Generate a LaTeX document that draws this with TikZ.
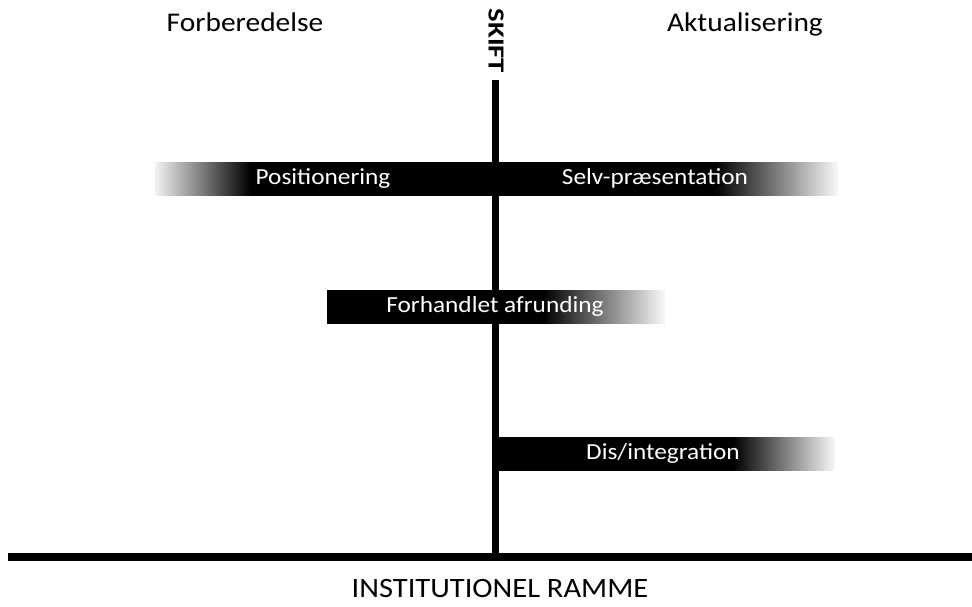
\documentclass[tikz,border=0pt]{standalone}
\usepackage{fontspec}
\setmainfont{Carlito}
% fades: the path fills 25bp..75bp of each shading
\pgfdeclarehorizontalshading{fadeboth}{100bp}{color(0bp)=(gray!10); color(25bp)=(gray!10);
  color(32bp)=(black); color(66bp)=(black); color(75bp)=(gray!5); color(100bp)=(gray!5)}
\pgfdeclarehorizontalshading{fademid}{100bp}{color(0bp)=(black); color(25bp)=(black);
  color(57bp)=(black); color(75bp)=(gray!5); color(100bp)=(gray!5)}
\pgfdeclarehorizontalshading{fadeend}{100bp}{color(0bp)=(black); color(25bp)=(black);
  color(60bp)=(black); color(75bp)=(gray!5); color(100bp)=(gray!5)}
\tikzset{
  barlabel/.style={text=white,font=\fontsize{23}{23}\selectfont,inner sep=0pt,anchor=base,xscale=1.1},
  headlabel/.style={font=\fontsize{27}{27}\selectfont,inner sep=0pt,anchor=base,xscale=1.09}
}
\begin{document}
\begin{tikzpicture}[x=1pt,y=-1pt]
    \useasboundingbox (0,0) rectangle (972,606);
    % bars
    \shade[shading=fadeboth] (155,162) rectangle (838,195);
    \shade[shading=fademid] (327,290) rectangle (665,323);
    \shade[shading=fadeend] (495,437) rectangle (835,470);
    % shift line and frame line
    \draw[line width=7pt] (495,80) -- (495,557);
    \draw[line width=8pt] (8,557) -- (972,557);
    % texts
    \node[headlabel] (prep) at (245,31) {Forberedelse};
    \node[headlabel] (actual) at (745,31) {Aktualisering};
    \node[font=\bfseries\fontsize{23}{23}\selectfont,inner sep=0pt,rotate=-90,xscale=1.25] (shift) at (496,41) {SKIFT};
    \node[barlabel] (pos) at (323,184) {Positionering};
    \node[barlabel] (self) at (655,184) {Selv-præsentation};
    \node[barlabel] (nego) at (495,312) {Forhandlet afrunding};
    \node[barlabel] (dis) at (663,459) {Dis/integration};
    \node[font=\fontsize{28}{28}\selectfont,inner sep=0pt,anchor=base,xscale=1.09] (frame) at (500,597) {INSTITUTIONEL RAMME};
  \end{tikzpicture}
\end{document}
